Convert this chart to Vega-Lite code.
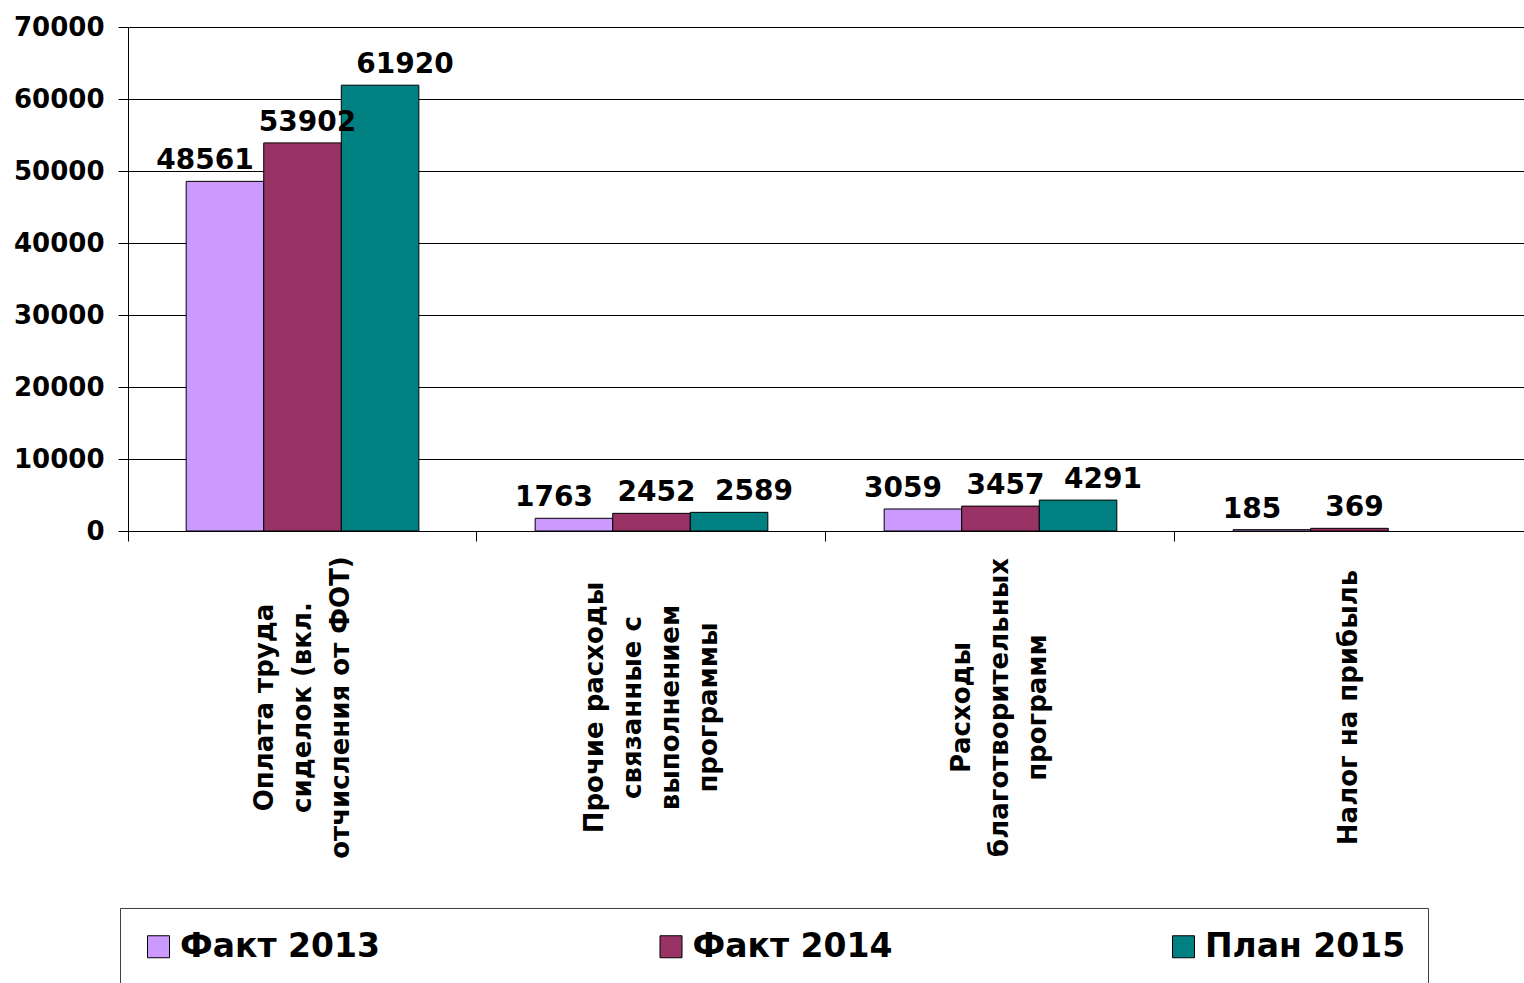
{
  "$schema": "https://vega.github.io/schema/vega-lite/v6.json",
  "width": 1396,
  "height": 504,
  "autosize": {"type": "none"},
  "padding": {"left": 128, "top": 27, "right": 0, "bottom": 452},
  "background": "white",
  "config": {"view": {"stroke": null}, "font": "DejaVu Sans"},
  "data": {
    "values": [
      {"category": "Оплата труда сиделок (вкл. отчисления от ФОТ)", "series": "Факт 2013", "value": 48561},
      {"category": "Оплата труда сиделок (вкл. отчисления от ФОТ)", "series": "Факт 2014", "value": 53902},
      {"category": "Оплата труда сиделок (вкл. отчисления от ФОТ)", "series": "План 2015", "value": 61920},
      {"category": "Прочие расходы связанные с выполнением программы", "series": "Факт 2013", "value": 1763},
      {"category": "Прочие расходы связанные с выполнением программы", "series": "Факт 2014", "value": 2452},
      {"category": "Прочие расходы связанные с выполнением программы", "series": "План 2015", "value": 2589},
      {"category": "Расходы благотворительных программ", "series": "Факт 2013", "value": 3059},
      {"category": "Расходы благотворительных программ", "series": "Факт 2014", "value": 3457},
      {"category": "Расходы благотворительных программ", "series": "План 2015", "value": 4291},
      {"category": "Налог на прибыль", "series": "Факт 2013", "value": 185},
      {"category": "Налог на прибыль", "series": "Факт 2014", "value": 369}
    ]
  },
  "encoding": {
    "x": {
      "field": "category",
      "type": "nominal",
      "sort": null,
      "scale": {"paddingInner": 0.3333, "paddingOuter": 0.1667},
      "axis": {
        "title": null,
        "grid": false,
        "bandPosition": -0.25,
        "ticks": true,
        "tickSize": 10,
        "tickColor": "black",
        "domainColor": "black",
        "labelAngle": 270,
        "labelAlign": "center",
        "labelBaseline": "middle",
        "labelPadding": 166,
        "labelFontSize": 26,
        "labelFontWeight": "bold",
        "labelColor": "black",
        "labelLineHeight": 38,
        "labelLimit": 500,
        "labelOverlap": false,
        "labelBound": false,
        "labelOffset": {"expr": "datum.value == 'Прочие расходы связанные с выполнением программы' ? -57 : datum.value == 'Налог на прибыль' ? 0 : -38"},
        "labelExpr": "datum.label == 'Оплата труда сиделок (вкл. отчисления от ФОТ)' ? ['Оплата труда', 'сиделок (вкл.', 'отчисления от ФОТ)'] : datum.label == 'Прочие расходы связанные с выполнением программы' ? ['Прочие расходы', 'связанные с', 'выполнением', 'программы'] : datum.label == 'Расходы благотворительных программ' ? ['Расходы', 'благотворительных', 'программ'] : datum.label"
      }
    },
    "xOffset": {
      "field": "series",
      "type": "nominal",
      "sort": ["Факт 2013", "Факт 2014", "План 2015"],
      "scale": {"paddingInner": 0, "paddingOuter": 0}
    },
    "y": {
      "field": "value",
      "type": "quantitative",
      "scale": {"domain": [0, 70000], "nice": false},
      "axis": {
        "title": null,
        "values": [0, 10000, 20000, 30000, 40000, 50000, 60000, 70000],
        "format": "d",
        "grid": true,
        "gridColor": "black",
        "gridWidth": 1,
        "gridOpacity": 1,
        "domainColor": "black",
        "tickColor": "black",
        "tickSize": 10,
        "labelFontSize": 26,
        "labelFontWeight": "bold",
        "labelColor": "black",
        "labelPadding": 14
      }
    }
  },
  "layer": [
    {
      "mark": {"type": "bar", "stroke": "black", "strokeWidth": 1},
      "encoding": {
        "color": {
          "field": "series",
          "type": "nominal",
          "scale": {"domain": ["Факт 2013", "Факт 2014", "План 2015"], "range": ["#CC99FF", "#993366", "#008080"]},
          "legend": {
            "orient": "none",
            "legendX": -8,
            "legendY": 881,
            "direction": "horizontal",
            "columns": 3,
            "gridAlign": "all",
            "columnPadding": 273.5,
            "title": null,
            "labelFontSize": 33,
            "labelFontWeight": "bold",
            "labelColor": "black",
            "labelLimit": 500,
            "labelOffset": 5,
            "symbolType": "square",
            "symbolSize": 484,
            "symbolStrokeColor": "black",
            "symbolStrokeWidth": 1,
            "symbolOpacity": 1,
            "padding": 22,
            "strokeColor": "#404040"
          }
        }
      }
    },
    {
      "transform": [{"filter": "datum.series == 'Факт 2013'"}],
      "mark": {"type": "text", "baseline": "bottom", "dy": -6, "dx": -20, "fontSize": 28, "fontWeight": "bold", "color": "black"},
      "encoding": {
        "text": {"field": "value", "type": "quantitative", "format": "d"}
      }
    },
    {
      "transform": [{"filter": "datum.series == 'Факт 2014'"}],
      "mark": {"type": "text", "baseline": "bottom", "dy": -6, "dx": 5, "fontSize": 28, "fontWeight": "bold", "color": "black"},
      "encoding": {
        "text": {"field": "value", "type": "quantitative", "format": "d"}
      }
    },
    {
      "transform": [{"filter": "datum.series == 'План 2015'"}],
      "mark": {"type": "text", "baseline": "bottom", "dy": -6, "dx": 25, "fontSize": 28, "fontWeight": "bold", "color": "black"},
      "encoding": {
        "text": {"field": "value", "type": "quantitative", "format": "d"}
      }
    }
  ]
}
